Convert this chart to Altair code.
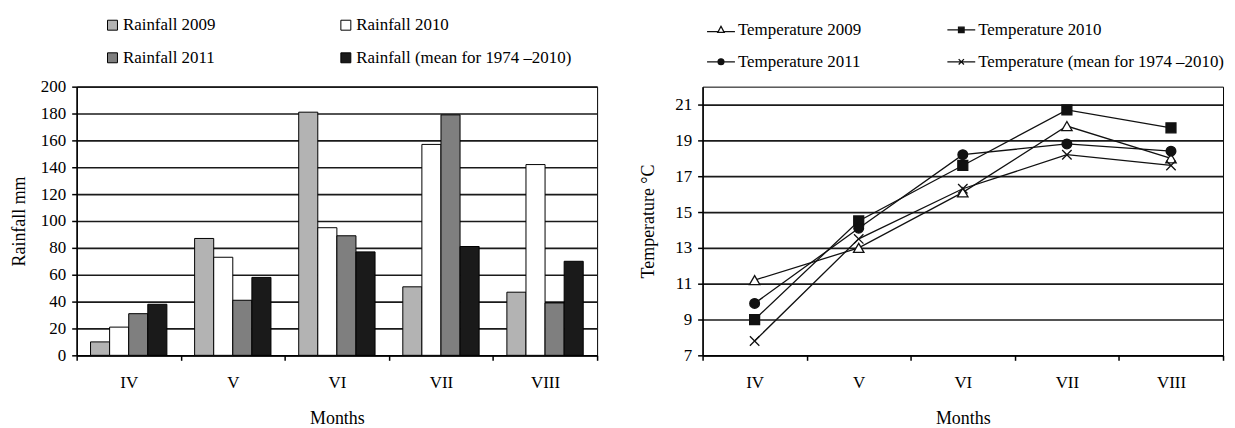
import altair as alt
import pandas as pd

FONT = "Liberation Serif"

months = ["IV", "V", "VI", "VII", "VIII"]

rain_series = ["Rainfall 2009", "Rainfall 2010", "Rainfall 2011", "Rainfall (mean for 1974 –2010)"]
rain_2009 = [10, 87, 181, 51, 47]
rain_2010 = [21, 73, 95, 157, 142]
rain_2011 = [31, 41, 89, 179, 39]
rain_mean = [38, 58, 77, 81, 70]
rain_colors = ["#b3b3b3", "#ffffff", "#7f7f7f", "#1a1a1a"]
rain_ticks = [0, 20, 40, 60, 80, 100, 120, 140, 160, 180, 200]

temp_series = ["Temperature 2009", "Temperature 2010", "Temperature 2011",
               "Temperature (mean for 1974 –2010)"]
temp_2009 = [11.2, 13.0, 16.1, 19.8, 18.0]
temp_2010 = [9.0, 14.5, 17.6, 20.7, 19.7]
temp_2011 = [9.9, 14.1, 18.2, 18.8, 18.4]
temp_mean = [7.8, 13.5, 16.3, 18.2, 17.6]
temp_ticks = [7, 9, 11, 13, 15, 17, 19, 21]

rain_df = pd.DataFrame({
    "month": months * 4,
    "series": [s for s in rain_series for _ in months],
    "value": rain_2009 + rain_2010 + rain_2011 + rain_mean,
})
temp_df = pd.DataFrame({
    "month": months * 4,
    "series": [s for s in temp_series for _ in months],
    "value": temp_2009 + temp_2010 + temp_2011 + temp_mean,
})

x_axis = alt.Axis(title="Months", tickBand="extent", labelAngle=0, grid=False,
                  labelPadding=14, titlePadding=20)

left = alt.Chart(rain_df).mark_bar(stroke="black", strokeWidth=1).encode(
    x=alt.X("month:N", sort=months, scale=alt.Scale(paddingInner=0, paddingOuter=0), axis=x_axis),
    xOffset=alt.XOffset("series:N", sort=rain_series,
                        scale=alt.Scale(domain=rain_series, paddingInner=0, paddingOuter=0.727)),
    y=alt.Y("value:Q", scale=alt.Scale(domain=[0, 200], nice=False),
            axis=alt.Axis(title="Rainfall mm", values=rain_ticks, grid=True, titlePadding=12)),
    fill=alt.Fill("series:N", sort=rain_series,
                  scale=alt.Scale(domain=rain_series, range=rain_colors),
                  legend=alt.Legend(title=None, orient="none", legendX=27.5, legendY=-70.5,
                                    direction="horizontal",
                                    columns=2, columnPadding=121.5, rowPadding=15,
                                    symbolType="square", symbolSize=100,
                                    symbolStrokeColor="black", symbolStrokeWidth=1,
                                    labelOffset=2, padding=0)),
).properties(width=523, height=270)

x_enc = alt.X("month:N", sort=months,
              scale=alt.Scale(type="band", paddingInner=0, paddingOuter=0), axis=x_axis)
y_enc = alt.Y("value:Q", scale=alt.Scale(domain=[7, 22], nice=False),
              axis=alt.Axis(title="Temperature °C", values=temp_ticks, grid=True, titlePadding=17))

lines = alt.Chart(temp_df).mark_line(color="#111111", strokeWidth=1.3).encode(
    x=x_enc, y=y_enc, detail="series:N")

point_styles = [
    ("triangle-up", "white", 110),
    ("square", "#111111", 100),
    ("circle", "#111111", 95),
    ("M-1,-1L1,1M-1,1L1,-1", "#111111", 90),
]
point_layers = []
for s, (shape, fill, size) in zip(temp_series, point_styles):
    point_layers.append(
        alt.Chart(temp_df).transform_filter(alt.datum.series == s).mark_point(
            shape=shape, filled=True, fill=fill, stroke="#111111", strokeWidth=1.3,
            size=size, opacity=1).encode(x=x_enc, y=y_enc)
    )

legend_paths = [
    "M-1,0.12L-0.2,0.12M0.2,0.12L1,0.12M0,-0.26L0.23,0.18L-0.23,0.18Z",
    "M-1,0L1,0M-0.2,-0.2L0.2,-0.2L0.2,0.2L-0.2,0.2Z",
    "M-1,0L1,0M-0.21,0A0.21,0.21,0,1,0,0.21,0A0.21,0.21,0,1,0,-0.21,0Z",
    "M-1,0L1,0M-0.19,-0.19L0.19,0.19M-0.19,0.19L0.19,-0.19",
]
temp_legend = alt.Legend(title=None, orient="none", legendX=1.5, legendY=-74,
                         direction="horizontal",
                         columns=2, columnPadding=83.5, rowPadding=9,
                         symbolSize=784, symbolStrokeWidth=1.3,
                         symbolOpacity=1, labelOffset=2, padding=2)
legend_layer = alt.Chart(temp_df).mark_point(filled=True, opacity=0).encode(
    x=x_enc, y=y_enc,
    shape=alt.Shape("series:N", sort=temp_series,
                    scale=alt.Scale(domain=temp_series, range=legend_paths), legend=temp_legend),
    fill=alt.Fill("series:N", sort=temp_series,
                  scale=alt.Scale(domain=temp_series, range=["white", "#111111", "#111111", "white"]),
                  legend=temp_legend),
    stroke=alt.Stroke("series:N", sort=temp_series,
                      scale=alt.Scale(domain=temp_series, range=["#111111"] * 4),
                      legend=temp_legend),
)

right = alt.layer(lines, *point_layers, legend_layer).properties(width=523, height=270)

chart = alt.hconcat(left, right, spacing=40).resolve_scale(
    fill="independent", shape="independent", stroke="independent"
).resolve_legend(
    fill="independent", shape="independent", stroke="independent"
).properties(
    padding={"left": 2, "top": 3, "right": 0, "bottom": 0}
).configure_view(
    stroke="black", strokeWidth=1
).configure_axis(
    labelFont=FONT, labelFontSize=17, labelColor="black",
    titleFont=FONT, titleFontSize=18, titleFontWeight="normal", titleColor="black",
    domainColor="black", domainWidth=1.5, tickColor="black", tickSize=5, tickWidth=1.5,
    gridColor="#1a1a1a", gridWidth=1.7, labelPadding=6,
).configure_legend(
    labelFont=FONT, labelFontSize=17, labelColor="black", labelLimit=0,
)

chart.save("out.html", embed_options={"renderer": "svg", "actions": False})
